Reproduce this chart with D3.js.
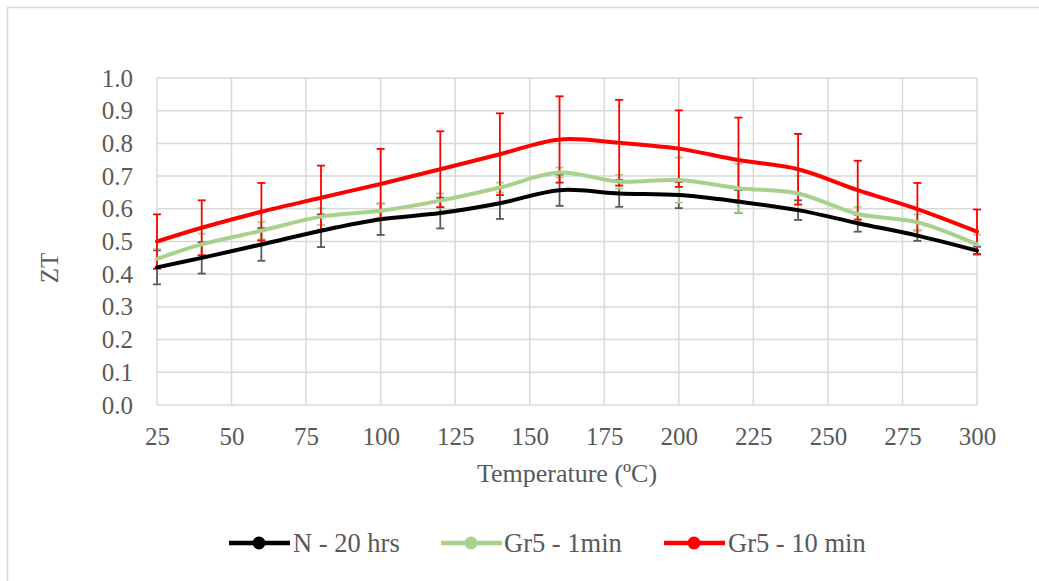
<!DOCTYPE html>
<html>
<head>
<meta charset="utf-8">
<script src="https://cdn.jsdelivr.net/npm/d3@7"></script>
<style>
  html, body { margin: 0; padding: 0; background: #fff; }
  svg { display: block; }
</style>
</head>
<body>
<svg id="chart" width="1039" height="581"></svg>
<script>
// Temperature points (°C)
const temperatures = [25, 40, 60, 80, 100, 120, 140, 160, 180, 200, 220, 240, 260, 280, 300];

// ZT values per sample
const ztN20hrs   = [0.421, 0.450, 0.491, 0.533, 0.568, 0.587, 0.617, 0.657, 0.647, 0.642, 0.622, 0.596, 0.556, 0.518, 0.472];
const ztGr5_1min = [0.447, 0.491, 0.533, 0.576, 0.594, 0.625, 0.665, 0.711, 0.683, 0.688, 0.663, 0.647, 0.584, 0.559, 0.491];
const ztGr5_10min= [0.500, 0.542, 0.591, 0.634, 0.676, 0.721, 0.767, 0.812, 0.802, 0.784, 0.749, 0.721, 0.657, 0.599, 0.530];

// Error bar half-widths
const errN20hrs   = [0.052, 0.048, 0.050, 0.050, 0.048, 0.047, 0.048, 0.048, 0.041, 0.040, 0.035, 0.030, 0.026, 0.016, 0.012];
const errGr5_1min = [0.030, 0.033, 0.026, 0.025, 0.021, 0.022, 0.015, 0.015, 0.021, 0.069, 0.075, 0.054, 0.022, 0.024, 0.030];
const errGr5_10min= [0.083, 0.084, 0.088, 0.098, 0.107, 0.116, 0.125, 0.132, 0.131, 0.117, 0.130, 0.108, 0.090, 0.080, 0.068];

const seriesNames = ["N - 20 hrs", "Gr5 - 1min", "Gr5 - 10 min"];
const lineColors  = ["#000000", "#a9d18e", "#ff0000"];
const errColors   = ["#595959", "#a9d18e", "#ff0000"];

const xTicks = [25, 50, 75, 100, 125, 150, 175, 200, 225, 250, 275, 300];
const yTicks = [0, 0.1, 0.2, 0.3, 0.4, 0.5, 0.6, 0.7, 0.8, 0.9, 1.0];

const series = [
  { name: seriesNames[0], values: ztN20hrs,    err: errN20hrs,    color: lineColors[0], errColor: errColors[0] },
  { name: seriesNames[1], values: ztGr5_1min,  err: errGr5_1min,  color: lineColors[1], errColor: errColors[1] },
  { name: seriesNames[2], values: ztGr5_10min, err: errGr5_10min, color: lineColors[2], errColor: errColors[2] }
];

const serif = '"Liberation Serif", "Times New Roman", serif';
const textColor = "#595959";
const svg = d3.select("#chart").attr("font-family", serif);

// outer chart frame
svg.append("rect")
  .attr("x", 7.5).attr("y", 7.5)
  .attr("width", 1040).attr("height", 590)
  .attr("fill", "none").attr("stroke", "#d9d9d9").attr("stroke-width", 1.5);

const plot = { left: 157, right: 977, top: 78, bottom: 405 };

const x = d3.scaleLinear().domain([25, 300]).range([plot.left, plot.right]);
const y = d3.scaleLinear().domain([0, 1]).range([plot.bottom, plot.top]);

// gridlines
const grid = svg.append("g");
grid.selectAll("line.h").data(yTicks).join("line")
  .attr("x1", plot.left).attr("x2", plot.right)
  .attr("y1", d => y(d)).attr("y2", d => y(d))
  .attr("stroke", "#d9d9d9").attr("stroke-width", 1.5);
grid.selectAll("line.v").data(xTicks).join("line")
  .attr("y1", plot.top).attr("y2", plot.bottom)
  .attr("x1", d => x(d)).attr("x2", d => x(d))
  .attr("stroke", "#d9d9d9").attr("stroke-width", 1.5);

// axes (labels only, no domain lines)
const yAxis = svg.append("g")
  .attr("transform", `translate(${plot.left},0)`)
  .call(d3.axisLeft(y).tickValues(yTicks).tickFormat(d3.format(".1f")).tickSize(0).tickPadding(24));
yAxis.attr("font-family", serif).attr("font-size", 25);
yAxis.select(".domain").remove();
yAxis.selectAll("text").attr("fill", textColor);

const xAxis = svg.append("g")
  .attr("transform", `translate(0,${plot.bottom})`)
  .call(d3.axisBottom(x).tickValues(xTicks).tickFormat(d3.format("d")).tickSize(0).tickPadding(22));
xAxis.attr("font-family", serif).attr("font-size", 25);
xAxis.select(".domain").remove();
xAxis.selectAll("text").attr("fill", textColor);

// axis titles
svg.append("text")
  .attr("x", 567).attr("y", 482)
  .attr("text-anchor", "middle").attr("font-size", 26).attr("fill", textColor)
  .text("Temperature (ºC)");
svg.append("text")
  .attr("transform", "translate(58,268) rotate(-90)")
  .attr("text-anchor", "middle").attr("font-size", 25).attr("fill", textColor)
  .text("ZT");

// series: error bars + smoothed lines
const line = d3.line()
  .x((d, i) => x(temperatures[i]))
  .y(d => y(d))
  .curve(d3.curveCatmullRom.alpha(0.5));

const cap = 4;
series.forEach(s => {
  const g = svg.append("g");
  const eb = g.selectAll("g.eb").data(s.values).join("g")
    .attr("stroke", s.errColor).attr("stroke-width", 1.8);
  eb.append("line")
    .attr("x1", (d, i) => x(temperatures[i])).attr("x2", (d, i) => x(temperatures[i]))
    .attr("y1", (d, i) => y(d + s.err[i])).attr("y2", (d, i) => y(d - s.err[i]));
  eb.append("line")
    .attr("x1", (d, i) => x(temperatures[i]) - cap).attr("x2", (d, i) => x(temperatures[i]) + cap)
    .attr("y1", (d, i) => y(d + s.err[i])).attr("y2", (d, i) => y(d + s.err[i]));
  eb.append("line")
    .attr("x1", (d, i) => x(temperatures[i]) - cap).attr("x2", (d, i) => x(temperatures[i]) + cap)
    .attr("y1", (d, i) => y(d - s.err[i])).attr("y2", (d, i) => y(d - s.err[i]));
});
series.forEach(s => {
  svg.append("path")
    .attr("d", line(s.values))
    .attr("fill", "none").attr("stroke", s.color)
    .attr("stroke-width", 4).attr("stroke-linejoin", "round").attr("stroke-linecap", "round");
});

// legend
const legendItems = [
  { x: 229, textX: 293 },
  { x: 441, textX: 504 },
  { x: 664, textX: 728 }
];
const legendY = 543;
series.forEach((s, i) => {
  const li = legendItems[i];
  const g = svg.append("g");
  g.append("line")
    .attr("x1", li.x).attr("x2", li.x + 61)
    .attr("y1", legendY).attr("y2", legendY)
    .attr("stroke", s.color).attr("stroke-width", 4.5);
  g.append("circle")
    .attr("cx", li.x + 30).attr("cy", legendY).attr("r", 6.5)
    .attr("fill", s.color);
  g.append("text")
    .attr("x", li.textX).attr("y", 552)
    .attr("font-size", 26.5).attr("fill", textColor)
    .text(s.name);
});
</script>
</body>
</html>
